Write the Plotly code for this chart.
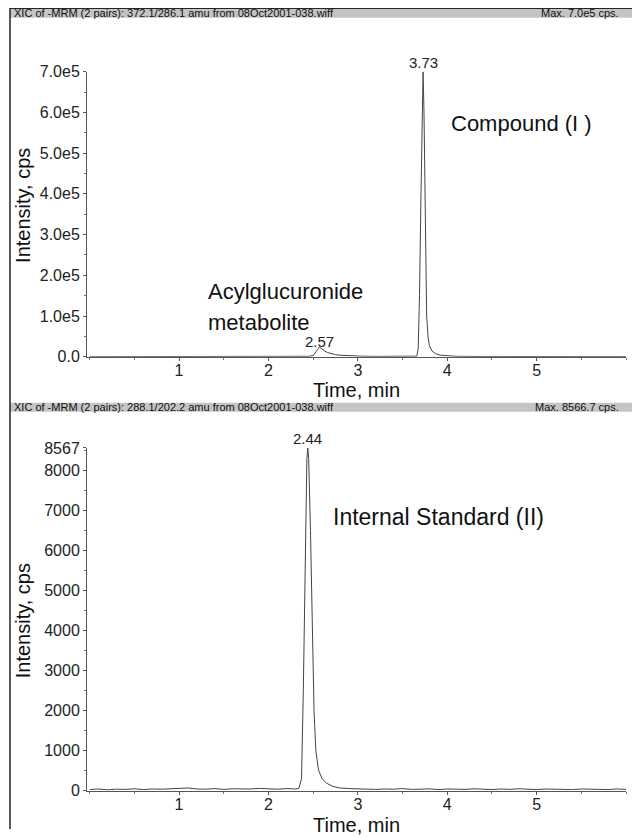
import plotly.graph_objects as go

W, H = 632, 838

# ---------------- data: top chromatogram (372.1/286.1) ----------------
t_top = [0.00, 0.30, 0.60, 0.90, 1.20, 1.50, 1.80, 2.10, 2.35, 2.45, 2.50,
         2.52, 2.54, 2.56, 2.57, 2.58, 2.60, 2.63, 2.66, 2.70, 2.75, 2.80,
         2.88, 2.96, 3.05, 3.20, 3.40, 3.60, 3.66, 3.675, 3.69, 3.705, 3.72,
         3.73, 3.74, 3.75, 3.76, 3.77, 3.785, 3.80, 3.83, 3.87, 3.92, 4.00,
         4.10, 4.30, 4.60, 5.00, 5.40, 5.80, 6.00]
i_top = [300, 400, 350, 500, 450, 400, 600, 500, 700, 1200, 3000,
         9000, 17000, 22000, 24000, 22000, 18000, 14000, 10500, 7500, 5200, 3800,
         2700, 2000, 1400, 1000, 800, 900, 1500, 20000, 150000, 380000, 620000,
         700000, 600000, 400000, 200000, 100000, 50000, 28000, 14000, 7500, 4000, 2000,
         1200, 800, 600, 500, 450, 400, 400]

# ---------------- data: bottom chromatogram (288.1/202.2) ----------------
t_bot = [0.00, 0.10, 0.20, 0.30, 0.40, 0.50, 0.60, 0.70, 0.80, 0.90, 1.00,
         1.10, 1.20, 1.30, 1.40, 1.50, 1.60, 1.70, 1.80, 1.90, 2.00, 2.10,
         2.20, 2.30, 2.34, 2.37, 2.39, 2.41, 2.43, 2.44, 2.45, 2.47, 2.49,
         2.51, 2.53, 2.56, 2.60, 2.65, 2.72, 2.80, 2.90, 3.00, 3.10, 3.20,
         3.30, 3.40, 3.50, 3.60, 3.70, 3.80, 3.90, 4.00, 4.10, 4.20, 4.30,
         4.40, 4.50, 4.60, 4.70, 4.80, 4.90, 5.00, 5.10, 5.20, 5.30, 5.40,
         5.50, 5.60, 5.70, 5.80, 5.90, 6.00]
i_bot = [30, 45, 25, 40, 35, 50, 30, 45, 40, 55, 60,
         70, 45, 40, 55, 35, 50, 40, 45, 60, 50, 40,
         55, 45, 60, 300, 2500, 6000, 8300, 8567, 8300, 6500, 4000,
         2000, 1000, 520, 300, 190, 110, 70, 55, 45, 50, 35,
         45, 40, 55, 35, 40, 50, 30, 45, 40, 35, 50,
         40, 30, 45, 35, 50, 40, 30, 45, 35, 40, 30,
         45, 35, 40, 30, 45, 35]

# tick labels
x_ticks = [1, 2, 3, 4, 5]
top_yvals = [0, 100000, 200000, 300000, 400000, 500000, 600000, 700000]
top_ytext = ["0.0", "1.0e5", "2.0e5", "3.0e5", "4.0e5", "5.0e5", "6.0e5", "7.0e5"]
bot_yvals = [0, 1000, 2000, 3000, 4000, 5000, 6000, 7000, 8000, 8567]
bot_ytext = ["0", "1000", "2000", "3000", "4000", "5000", "6000", "7000", "8000", "8567"]

# peak labels
top_peaks = [(2.57, 24000, "2.57"), (3.73, 700000, "3.73")]
bot_peaks = [(2.44, 8567, "2.44")]

headers = [
    ("XIC of -MRM (2 pairs): 372.1/286.1 amu from 08Oct2001-038.wiff", "Max. 7.0e5 cps."),
    ("XIC of -MRM (2 pairs): 288.1/202.2 amu from 08Oct2001-038.wiff", "Max. 8566.7 cps."),
]

FONT = "Liberation Sans, Arial, Helvetica, sans-serif"
LINE = "#444444"

def py(px):
    return 1 - px / H

def px_x(px):
    return px / W

x0, x1 = px_x(87), px_x(626)
top_dom = [py(356), py(65)]
bot_dom = [py(799), py(449)]

fig = go.Figure()
fig.add_trace(go.Scatter(x=t_top, y=i_top, mode="lines", line=dict(color=LINE, width=1),
                         xaxis="x", yaxis="y", showlegend=False, hoverinfo="skip"))
fig.add_trace(go.Scatter(x=t_bot, y=i_bot, mode="lines", line=dict(color=LINE, width=1),
                         xaxis="x2", yaxis="y2", showlegend=False, hoverinfo="skip"))

axis_common = dict(showline=True, linecolor="#555", linewidth=1, ticks="outside",
                   tickcolor="#555", ticklen=3, showgrid=False, zeroline=False,
                   tickfont=dict(family=FONT, size=16, color="#222"))

xaxis_common = dict(axis_common, range=[-0.03, 6.0], tickvals=x_ticks,
                    ticktext=[str(v) for v in x_ticks], ticklabelstandoff=-4,
                    minor=dict(ticks="outside", dtick=0.5, tick0=0, ticklen=2, tickcolor="#777"))

fig.update_layout(
    width=W, height=H, margin=dict(l=0, r=0, t=0, b=0),
    paper_bgcolor="white", plot_bgcolor="white",
    xaxis=dict(xaxis_common, domain=[x0, x1], anchor="y"),
    yaxis=dict(axis_common, domain=top_dom, range=[0, 700000], tickvals=top_yvals,
               ticktext=top_ytext, anchor="x",
               minor=dict(ticks="outside", dtick=50000, ticklen=2, tickcolor="#777")),
    xaxis2=dict(xaxis_common, domain=[x0, x1], anchor="y2"),
    yaxis2=dict(axis_common, domain=bot_dom, range=[0, 8567], tickvals=bot_yvals,
                ticktext=bot_ytext, anchor="x2",
                minor=dict(ticks="outside", dtick=500, ticklen=2, tickcolor="#777")),
)

ann = []
peak_font = dict(family=FONT, size=15, color="#222")
ann.append(dict(x=top_peaks[0][0], y=top_peaks[0][1], xref="x", yref="y", text=top_peaks[0][2],
                showarrow=False, yanchor="bottom", yshift=-5, font=peak_font))
ann.append(dict(x=top_peaks[1][0], y=top_peaks[1][1], xref="x", yref="y", text=top_peaks[1][2],
                showarrow=False, yanchor="bottom", yshift=-1, font=peak_font))
for (tx, iy, lab) in bot_peaks:
    ann.append(dict(x=tx, y=iy, xref="x2", yref="y2", text=lab, showarrow=False,
                    yanchor="bottom", yshift=-1, font=peak_font))

big = dict(family=FONT, size=22, color="#111")
ann.append(dict(x=4.02, y=573000, xref="x", yref="y", text="Compound (I )", showarrow=False,
                xanchor="left", yanchor="middle", font=big))
ann.append(dict(x=1.30, y=160000, xref="x", yref="y", text="Acylglucuronide",
                showarrow=False, xanchor="left", yanchor="middle", font=big))
ann.append(dict(x=1.30, y=83000, xref="x", yref="y", text="metabolite",
                showarrow=False, xanchor="left", yanchor="middle", font=big))
ann.append(dict(x=2.70, y=6830, xref="x2", yref="y2", text="Internal Standard (II)", showarrow=False,
                xanchor="left", yanchor="middle", font=dict(big, size=23)))

# axis titles
title_font = dict(family=FONT, size=20, color="#111")
for ycenter in (202, 626):
    ann.append(dict(x=px_x(23), y=py(ycenter), xref="paper", yref="paper", text="Intensity, cps",
                    textangle=-90, showarrow=False, xanchor="center", yanchor="middle", font=title_font))
ann.append(dict(x=px_x(356), y=py(390), xref="paper", yref="paper", text="Time, min",
                showarrow=False, xanchor="center", yanchor="middle", font=title_font))
ann.append(dict(x=px_x(356), y=py(834), xref="paper", yref="paper", text="Time, min",
                showarrow=False, xanchor="center", yanchor="middle", font=title_font))

# header bars
shapes = []
for (top_px, (ltxt, rtxt)) in zip((0, 402), headers):
    shapes.append(dict(type="rect", xref="paper", yref="paper", x0=px_x(10), x1=1,
                       y0=py(top_px + 10), y1=py(top_px + 1), fillcolor="#c4c4c4",
                       line=dict(width=0), layer="below"))
    ann.append(dict(x=px_x(12), y=py(top_px + 5.5), xref="paper", yref="paper", text=ltxt,
                    showarrow=False, xanchor="left", yanchor="middle",
                    font=dict(family=FONT, size=11, color="#111")))
    ann.append(dict(x=px_x(621), y=py(top_px + 5.5), xref="paper", yref="paper", text=rtxt,
                    showarrow=False, xanchor="right", yanchor="middle",
                    font=dict(family=FONT, size=11, color="#111")))
# frame lines
shapes.append(dict(type="line", xref="paper", yref="paper", x0=px_x(10), x1=px_x(10),
                   y0=0, y1=1, line=dict(color="#222", width=1.5)))
shapes.append(dict(type="line", xref="paper", yref="paper", x0=px_x(10), x1=1,
                   y0=py(0.5), y1=py(0.5), line=dict(color="#222", width=1)))

fig.update_layout(annotations=ann, shapes=shapes)
fig.write_html("out.html")
